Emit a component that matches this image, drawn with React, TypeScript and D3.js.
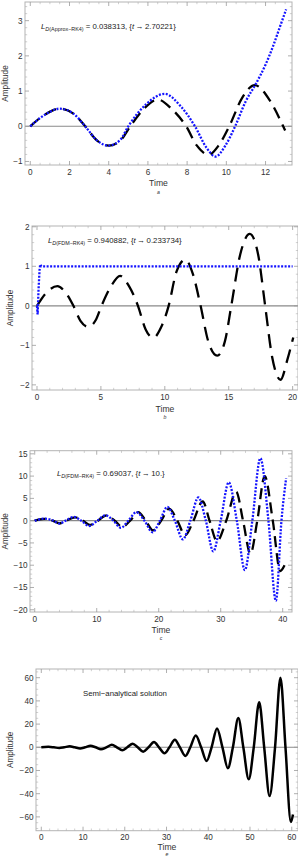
import * as d3 from 'd3';
import React from 'react';

type Pt = [number, number];

// ---- panel a : approximate solution vs RK4 ----
const aTimeTicks = [0, 2, 4, 6, 8, 10, 12];
const aAmpTicks = [-1, 0, 1, 2, 3];
const aRK4: Pt[] = [
  [0, 0], [0.75, 0.33], [1.5, 0.5], [2.2, 0.36], [2.8, 0], [3.4, -0.4], [4, -0.55], [4.6, -0.4],
  [5.1, 0], [5.8, 0.5], [6.5, 0.76], [7.2, 0.5], [7.95, 0], [8.5, -0.55], [9.1, -0.81], [9.6, -0.55],
  [10.15, 0], [10.8, 0.8], [11.45, 1.17], [12.2, 0.75], [12.9, 0], [13.0, -0.12],
];
const aApprox: Pt[] = [
  [0, 0], [0.75, 0.33], [1.5, 0.5], [2.2, 0.36], [2.8, 0], [3.4, -0.4], [4, -0.55], [4.6, -0.38],
  [5.0, 0], [5.9, 0.62], [6.85, 0.92], [7.7, 0.55], [8.4, 0], [9.0, -0.62], [9.45, -0.86], [9.95, -0.55],
  [10.45, 0], [11.0, 0.72], [11.5, 1.2], [12.0, 1.75], [12.4, 2.3], [12.75, 2.85], [13.05, 3.32],
];

// ---- panel b : FDM vs RK4 ----
const bTimeTicks = [0, 5, 10, 15, 20];
const bAmpTicks = [-2, -1, 0, 1, 2];
const bRK4: Pt[] = [
  [0, 0], [0.7, 0.32], [1.6, 0.5], [2.2, 0.35], [2.85, 0], [3.4, -0.38], [4.0, -0.53], [4.6, -0.36],
  [5.05, 0], [5.8, 0.5], [6.5, 0.76], [7.2, 0.5], [7.9, 0], [8.5, -0.6], [9.1, -0.81], [9.7, -0.55],
  [10.3, 0], [10.9, 0.85], [11.6, 1.17], [12.2, 0.8], [12.8, 0], [13.4, -0.9], [14.1, -1.26], [14.7, -0.9],
  [15.2, 0], [15.9, 1.3], [16.65, 1.82], [17.3, 1.3], [17.85, 0], [18.4, -1.3], [19.05, -1.87], [19.6, -1.35],
  [20.05, -0.8],
];
const bFDM: Pt[] = [
  [0, 0], [0.05, -0.22], [0.12, 0.4], [0.2, 0.9], [0.25, 1.05], [0.35, 1.0], [5, 1.0], [10, 1.0], [15, 1.0], [20, 1.0],
];

// ---- panel c : FDM vs RK4, longer run ----
const cTimeTicks = [0, 10, 20, 30, 40];
const cAmpTicks = [-20, -15, -10, -5, 0, 5, 10, 15];
const cRK4: Pt[] = [
  [0, 0], [0.8, 0.3], [1.5, 0.42], [2.3, 0.3], [2.9, 0], [4.0, -0.6], [5.1, 0], [6.5, 0.75], [7.8, 0],
  [8.9, -0.95], [10.2, 0], [11.6, 1.2], [12.9, 0], [14.1, -1.4], [15.4, 0], [16.7, 1.9], [17.9, 0],
  [19.1, -2.2], [20.4, 0], [21.7, 2.7], [23.0, 0], [24.3, -3.3], [25.6, 0], [27.1, 4.3], [28.2, 0],
  [29.4, -4.6], [30.9, 0], [32.5, 6.5], [33.6, 0], [34.8, -7.4], [35.9, 0], [37.1, 10.0], [38.4, 0],
  [39.6, -11.3], [40.3, -10.0],
];
const cFDM: Pt[] = [
  [0, 0], [0.8, 0.3], [1.6, 0.45], [2.4, 0.3], [3.0, 0], [4.0, -0.65], [5.0, 0], [6.3, 0.85], [7.5, 0],
  [8.8, -1.2], [10.1, 0], [11.4, 1.2], [12.7, 0], [13.9, -1.6], [15.1, 0], [16.4, 1.9], [17.7, 0],
  [19.0, -2.6], [20.2, 0], [21.4, 3.1], [22.6, 0], [23.9, -4.2], [25.1, 0], [26.4, 5.2], [27.6, 0],
  [28.8, -6.9], [30.0, 0], [31.3, 8.6], [32.6, 0], [33.9, -11.1], [35.1, 0], [36.4, 14.0], [37.7, 0],
  [38.9, -18.0], [39.8, 0], [40.55, 9.5],
];

// ---- panel e : semi-analytical solution ----
const dTimeTicks = [0, 10, 20, 30, 40, 50, 60];
const dAmpTicks = [-60, -40, -20, 0, 20, 40, 60];
const dSemi: Pt[] = [
  [0, 0], [1.7, 0.4], [3.0, 0], [4.3, -0.6], [5.5, 0], [6.8, 0.8], [8.0, 0], [9.3, -1.0], [10.5, 0],
  [11.8, 1.3], [13.0, 0], [14.3, -1.7], [15.6, 0], [16.9, 2.1], [18.1, 0], [19.4, -2.6], [20.6, 0],
  [21.9, 3.1], [23.1, 0], [24.4, -3.8], [25.7, 0], [27.0, 4.5], [28.2, 0], [29.5, -5.2], [30.7, 0],
  [32.0, 6.6], [33.2, 0], [34.5, -7.4], [35.7, 0], [37.0, 10.2], [38.3, 0], [39.6, -11.8], [40.8, 0],
  [42.1, 16.3], [43.4, 0], [44.7, -18], [45.9, 0], [47.2, 25.3], [48.4, 0], [49.7, -27.6], [50.9, 0],
  [52.2, 38.8], [53.4, 0], [54.7, -42], [56.0, 0], [57.3, 60], [58.5, 0], [59.8, -64.5], [60.3, -58],
];

const FONT = '"Liberation Sans", Arial, sans-serif';
const BLUE = '#1414ff';
const MINUS = '\u2212';

const dashed = { stroke: '#000', width: 2.3, dash: '12 7' };
const dotted = { stroke: BLUE, width: 2.3, dash: '2 1.5' };

const fmt = (v: number) => (v < 0 ? MINUS + Math.abs(v) : String(v));

function minorTicks(domain: number[], step: number, major: number[]) {
  const start = Math.ceil(domain[0] / step) * step;
  return d3.range(start, domain[1] + 1e-9, step)
    .map(v => +v.toFixed(6))
    .filter(v => !major.some(m => Math.abs(m - v) < 1e-6));
}

function Note({ x, y, sub, rest, t }: { x: number; y: number; sub: string; rest: string; t: string }) {
  return (
    <text x={x} y={y} fontFamily={FONT} fontSize={7.8} fill="#222">
      <tspan fontStyle="italic">L</tspan>
      <tspan fontSize={5.4} dy={2}><tspan fontStyle="italic">D</tspan>{sub}</tspan>
      <tspan dy={-2}>{` = ${rest}, {`}</tspan>
      <tspan fontStyle="italic">t</tspan>
      <tspan>{`\u2009\u2192\u2009${t}}`}</tspan>
    </text>
  );
}

function Panel(p: any) {
  const x = d3.scaleLinear().domain(p.xDomain).range([p.left, p.right]);
  const y = d3.scaleLinear().domain(p.yDomain).range([p.bottom, p.top]);
  const xMin = minorTicks(p.xDomain, p.xMinor, p.xTicks);
  const yMin = minorTicks(p.yDomain, p.yMinor, p.yTicks);
  const clipId = 'clip-' + p.id;
  const cx = (p.left + p.right) / 2;
  const cy = (p.top + p.bottom) / 2;

  return (
    <g>
      <clipPath id={clipId}>
        <rect x={p.left} y={p.top} width={p.right - p.left} height={p.bottom - p.top} />
      </clipPath>
      <line x1={p.left} x2={p.right} y1={y(0)} y2={y(0)} stroke="#8a8a8a" strokeWidth={1.1} />
      <g clipPath={`url(#${clipId})`}>
        {p.series.map((s: any, i: number) => {
          const line = d3.line<Pt>()
            .x(d => x(d[0]))
            .y(d => y(d[1]))
            .curve(s.linear ? d3.curveLinear : d3.curveMonotoneX);
          return (
            <path key={i} d={line(s.data) || ''} fill="none" stroke={s.style.stroke}
              strokeWidth={s.style.width} strokeDasharray={s.style.dash} />
          );
        })}
      </g>
      <rect x={p.left} y={p.top} width={p.right - p.left} height={p.bottom - p.top}
        fill="none" stroke="#b4b4b4" strokeWidth={1} />
      {p.xTicks.map((v: number) => (
        <g key={'xt' + v} stroke="#9a9a9a" strokeWidth={0.8}>
          <line x1={x(v)} x2={x(v)} y1={p.bottom} y2={p.bottom - 4} />
          <line x1={x(v)} x2={x(v)} y1={p.top} y2={p.top + 4} />
        </g>
      ))}
      {xMin.map((v: number) => (
        <g key={'xm' + v} stroke="#b0b0b0" strokeWidth={0.6}>
          <line x1={x(v)} x2={x(v)} y1={p.bottom} y2={p.bottom - 2.2} />
          <line x1={x(v)} x2={x(v)} y1={p.top} y2={p.top + 2.2} />
        </g>
      ))}
      {p.yTicks.map((v: number) => (
        <g key={'yt' + v} stroke="#9a9a9a" strokeWidth={0.8}>
          <line x1={p.left} x2={p.left + 4} y1={y(v)} y2={y(v)} />
          <line x1={p.right} x2={p.right - 4} y1={y(v)} y2={y(v)} />
        </g>
      ))}
      {yMin.map((v: number) => (
        <g key={'ym' + v} stroke="#b0b0b0" strokeWidth={0.6}>
          <line x1={p.left} x2={p.left + 2.2} y1={y(v)} y2={y(v)} />
          <line x1={p.right} x2={p.right - 2.2} y1={y(v)} y2={y(v)} />
        </g>
      ))}
      <g fontFamily={FONT} fontSize={8.2} fill="#333">
        {p.xTicks.map((v: number) => (
          <text key={'xl' + v} x={x(v)} y={p.bottom + 9.5} textAnchor="middle">{fmt(v)}</text>
        ))}
        {p.yTicks.map((v: number) => (
          <text key={'yl' + v} x={p.left - 2.5} y={y(v) + 3} textAnchor="end">{fmt(v)}</text>
        ))}
      </g>
      <text x={cx} y={p.timeY} textAnchor="middle" fontFamily={FONT} fontSize={8.6} fill="#333">Time</text>
      <text x={cx} y={p.timeY + p.subGap} textAnchor="middle" fontFamily={FONT} fontSize={5.2}
        fontStyle="italic" fill="#333">{p.sub}</text>
      <text transform={`translate(${p.amplX},${cy}) rotate(-90)`} textAnchor="middle"
        fontFamily={FONT} fontSize={8.2} fill="#333">Amplitude</text>
      {p.children}
    </g>
  );
}

export default function App() {
  return (
    <svg width={298} height={858} style={{ position: 'absolute', left: 0, top: 0, background: '#fff' }}>
      <Panel id="a" sub="a" left={25} right={292} top={2} bottom={165}
        xDomain={[-0.27, 13.35]} yDomain={[-1.1, 3.53]} xTicks={aTimeTicks} yTicks={aAmpTicks}
        xMinor={0.5} yMinor={0.2} timeY={186} subGap={7.5} amplX={8}
        series={[{ data: aRK4, style: dashed }, { data: aApprox, style: dotted }]}>
        <Note x={41} y={29} sub={`(Approx${MINUS}RK4)`} rest="0.038313" t="2.70221" />
      </Panel>
      <Panel id="b" sub="b" left={32} right={298} top={226} bottom={390}
        xDomain={[-0.39, 20.42]} yDomain={[-2.13, 2.02]} xTicks={bTimeTicks} yTicks={bAmpTicks}
        xMinor={1} yMinor={0.2} timeY={411.5} subGap={7.5} amplX={12.5}
        series={[{ data: bRK4, style: { ...dashed, dash: '14 8' } }, { data: bFDM, style: dotted, linear: true }]}>
        <Note x={48} y={243} sub={`(FDM${MINUS}RK4)`} rest="0.940882" t="0.233734" />
      </Panel>
      <Panel id="c" sub="c" left={30} right={292} top={450.7} bottom={612}
        xDomain={[-0.76, 41.5]} yDomain={[-20.5, 15.7]} xTicks={cTimeTicks} yTicks={cAmpTicks}
        xMinor={2} yMinor={1} timeY={632.5} subGap={7.5} amplX={8}
        series={[{ data: cRK4, style: { ...dashed, dash: '11 6' } }, { data: cFDM, style: dotted }]}>
        <Note x={57} y={476} sub={`(FDM${MINUS}RK4)`} rest="0.69037" t="10." />
      </Panel>
      <Panel id="d" sub="e" left={36} right={298} top={669} bottom={830.7}
        xDomain={[-1.27, 61.5]} yDomain={[-71.9, 67.5]} xTicks={dTimeTicks} yTicks={dAmpTicks}
        xMinor={2} yMinor={5} timeY={850} subGap={6} amplX={12.5}
        series={[{ data: dSemi, style: { stroke: '#000', width: 2.5 } }]}>
        <text x={83} y={696} fontFamily={FONT} fontSize={7.8} fill="#222">{`Semi${MINUS}analytical solution`}</text>
      </Panel>
    </svg>
  );
}
